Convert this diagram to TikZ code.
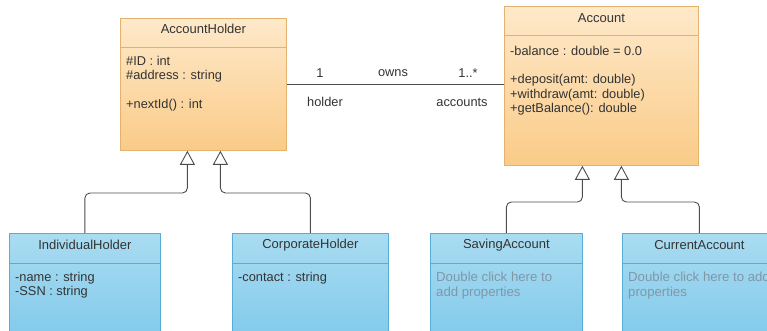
\documentclass[tikz,border=0pt]{standalone}
\usepackage{fontspec}
\setmainfont{Liberation Sans}
\usetikzlibrary{arrows.meta}
\definecolor{orangetop}{HTML}{FEE9CA}
\definecolor{orangebot}{HTML}{FACB88}
\definecolor{orangeline}{HTML}{E2B26E}
\definecolor{bluetop}{HTML}{A9DCF1}
\definecolor{bluebot}{HTML}{7CC7EA}
\definecolor{blueline}{HTML}{58ADD3}
\definecolor{inktext}{HTML}{333333}
\definecolor{hinttext}{HTML}{8197A8}

\begin{document}
\begin{tikzpicture}[x=1pt,y=-1pt,
    cls/.style={draw, anchor=north west, inner sep=0pt, line width=0.8pt},
    parent/.style={cls, draw=orangeline, top color=orangetop, bottom color=orangebot},
    child/.style={cls, draw=blueline, top color=bluetop, bottom color=bluebot},
    title/.style={text=inktext, font=\fontsize{13}{15}\selectfont},
    attrs/.style={text=inktext, font=\fontsize{12.8}{14.5}\selectfont, align=left, anchor=north west, inner sep=0pt},
    hint/.style={attrs, text=hinttext, font=\fontsize{13.2}{14.5}\selectfont},
    lbl/.style={text=inktext, font=\fontsize{12.8}{14.5}\selectfont},
    gen/.style={draw=black!70, line width=0.9pt, rounded corners=5pt, -{Triangle[open, length=14pt, width=15pt]}},
    ]
  \useasboundingbox (0,0) rectangle (767,331);
  \clip (0,0) rectangle (767,331);

  % super classes
  \node[parent, minimum width=166pt, minimum height=132pt] (holder) at (120,18) {};
  \draw[orangeline, line width=0.8pt] ([yshift=-29pt]holder.north west) -- ([yshift=-29pt]holder.north east);
  \node[title] (holdername) at ([yshift=-11pt]holder.north) {AccountHolder};
  \node[attrs] (holderattrs) at ([xshift=6pt, yshift=-38pt]holder.north west)
    {\#ID : int\\\#address : string\\[14.5pt]+nextId() : int};

  \node[parent, minimum width=194pt, minimum height=159pt] (account) at (504,6) {};
  \draw[orangeline, line width=0.8pt] ([yshift=-29pt]account.north west) -- ([yshift=-29pt]account.north east);
  \node[title] (accountname) at ([yshift=-12pt]account.north) {Account};
  \node[attrs] (accountattrs) at ([xshift=6pt, yshift=-40pt]account.north west)
    {-balance : double = 0.0\\[14pt]+deposit(amt: double)\\+withdraw(amt: double)\\+getBalance(): double};

  % association
  \draw[black!70, line width=0.9pt] (holder.east) -- (holder.east -| account.west);
  \node[lbl] (mulholder) at (320,73) {1};
  \node[lbl] (assocname) at (393,73) {owns};
  \node[lbl] (mulaccount) at (468,73) {1..*};
  \node[lbl] (roleholder) at (325,102) {holder};
  \node[lbl] (roleaccount) at (462,102) {accounts};

  % sub classes
  \node[child, minimum width=151pt, minimum height=120pt] (indiv) at (9,233) {};
  \node[child, minimum width=156pt, minimum height=120pt] (corp) at (232,233) {};
  \node[child, minimum width=152pt, minimum height=120pt] (saving) at (430,233) {};
  \node[child, minimum width=154pt, minimum height=120pt] (current) at (622,233) {};
  \foreach \c in {indiv,corp,saving,current}
    \draw[blueline, line width=0.8pt] ([yshift=-30pt]\c.north west) -- ([yshift=-30pt]\c.north east);

  \node[title] (indivname) at ([yshift=-12pt]indiv.north) {IndividualHolder};
  \node[attrs] (indivattrs) at ([xshift=6pt, yshift=-39pt]indiv.north west) {-name : string\\-SSN : string};
  \node[title] (corpname) at ([yshift=-12pt]corp.north) {CorporateHolder};
  \node[attrs] (corpattrs) at ([xshift=6pt, yshift=-39pt]corp.north west) {-contact : string};
  \node[title] (savingname) at ([yshift=-12pt]saving.north) {SavingAccount};
  \node[hint] (savinghint) at ([xshift=6pt, yshift=-39pt]saving.north west) {Double click here to\\add properties};
  \node[title] (currentname) at ([yshift=-12pt]current.north) {CurrentAccount};
  \node[hint] (currenthint) at ([xshift=6pt, yshift=-39pt]current.north west) {Double click here to add\\properties};

  % generalisation
  \draw[gen] (indiv.north) |- ([xshift=-16pt]holder.south |- 0,193) -- ([xshift=-16pt]holder.south);
  \draw[gen] (corp.north) |- ([xshift=17pt]holder.south |- 0,193) -- ([xshift=17pt]holder.south);
  \draw[gen] (saving.north) |- ([xshift=-19pt]account.south |- 0,202) -- ([xshift=-19pt]account.south);
  \draw[gen] (current.north) |- ([xshift=20pt]account.south |- 0,202) -- ([xshift=20pt]account.south);
\end{tikzpicture}
\end{document}
